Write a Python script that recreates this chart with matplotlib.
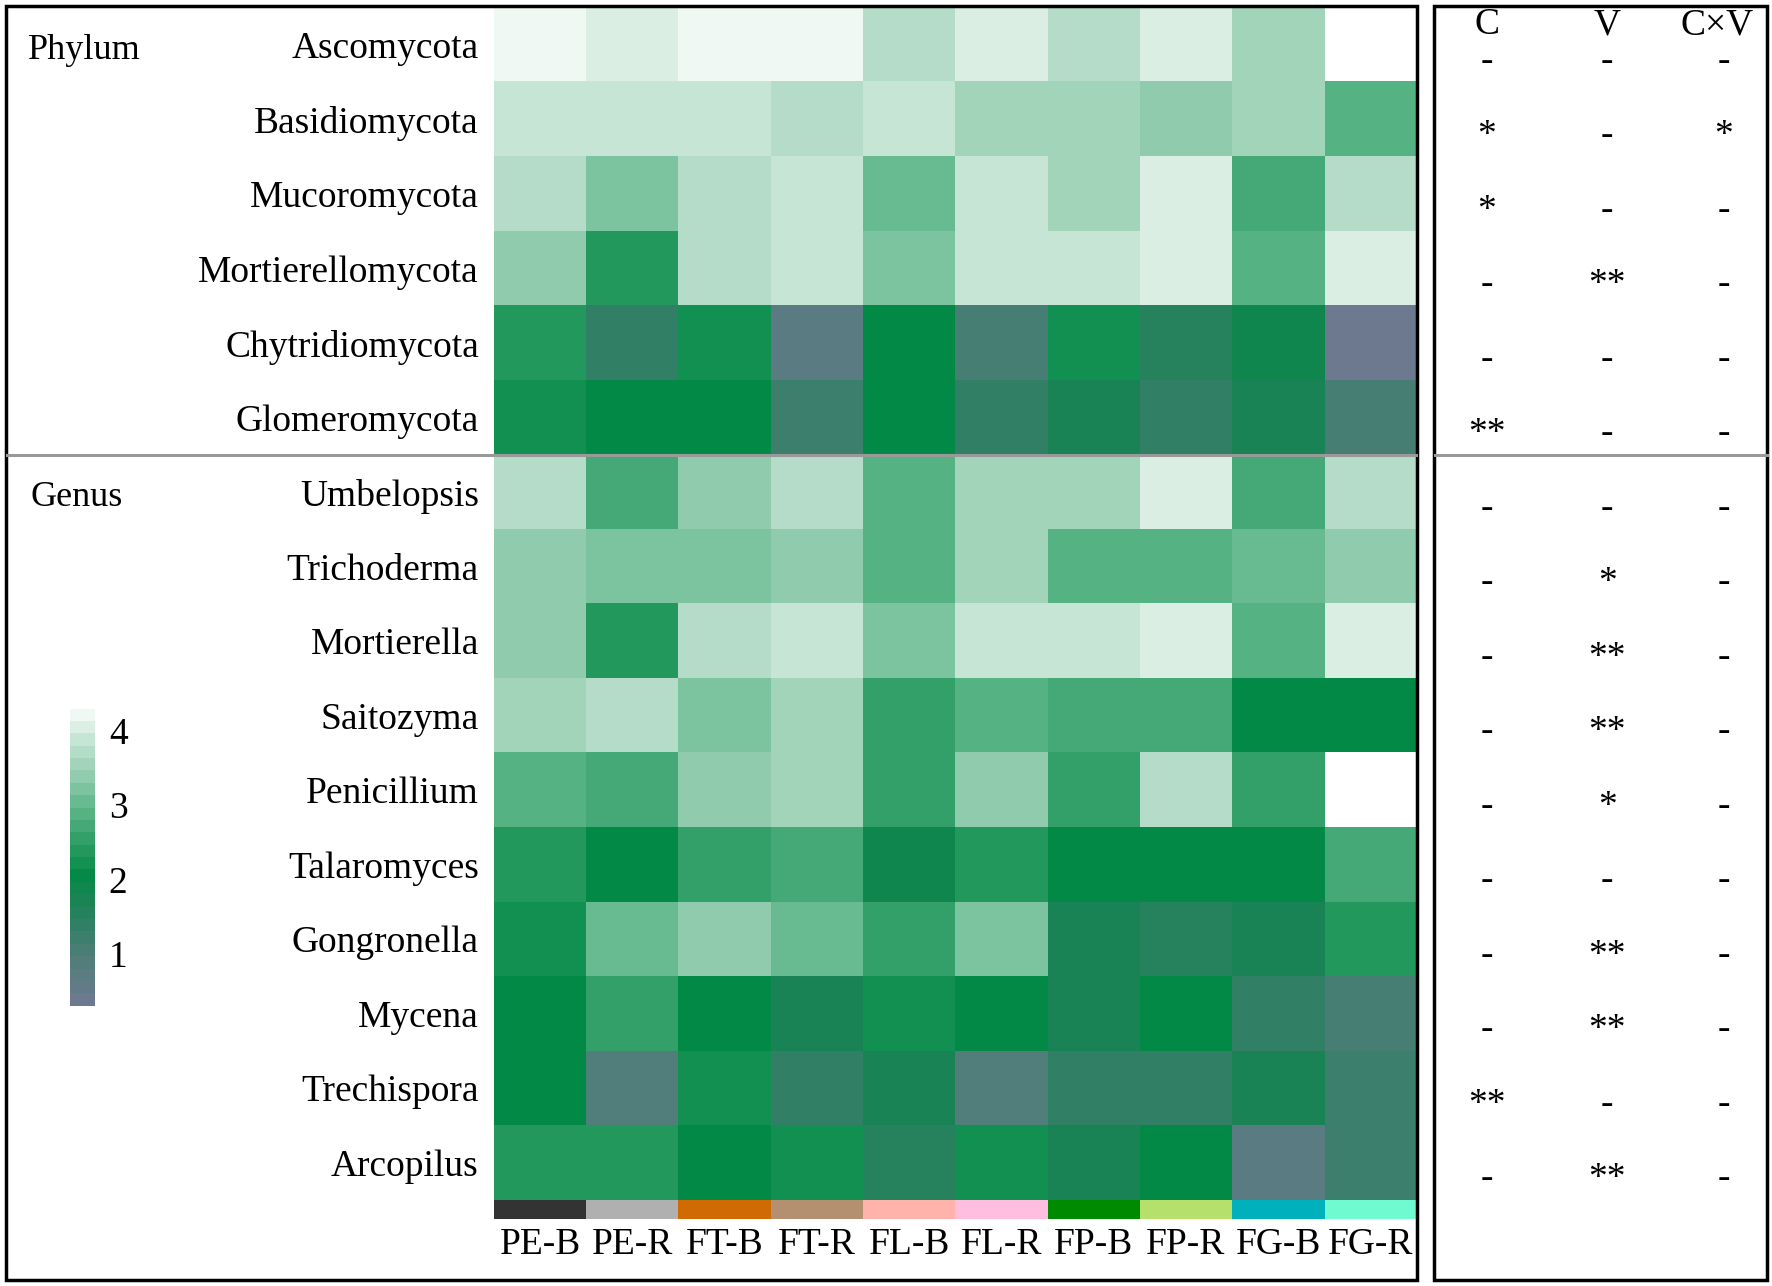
import numpy as np
import matplotlib.pyplot as plt
from matplotlib.colors import LinearSegmentedColormap, ListedColormap, Normalize
from matplotlib.patches import Rectangle
from matplotlib.lines import Line2D
from matplotlib.cm import ScalarMappable
from matplotlib.transforms import blended_transform_factory

plt.rcParams['font.family'] = ['Liberation Serif', 'DejaVu Serif']

# treatments and their colour tags
groups = ['PE-B', 'PE-R', 'FT-B', 'FT-R', 'FL-B', 'FL-R', 'FP-B', 'FP-R', 'FG-B', 'FG-R']
group_colors = ['#333333', '#b0b0b0', '#d06a04', '#b59070', '#ffb3aa',
                '#ffbde0', '#008a00', '#b5e06c', '#00b0bd', '#70fad0']

phylum = ['Ascomycota', 'Basidiomycota', 'Mucoromycota', 'Mortierellomycota',
          'Chytridiomycota', 'Glomeromycota']
genus = ['Umbelopsis', 'Trichoderma', 'Mortierella', 'Saitozyma', 'Penicillium',
         'Talaromyces', 'Gongronella', 'Mycena', 'Trechispora', 'Arcopilus']

nan = np.nan
# log-scaled abundance (white cells = missing)
phylum_vals = [
    [4.22, 4.05, 4.22, 4.22, 3.72, 4.05, 3.72, 4.05, 3.55, nan],
    [3.88, 3.88, 3.88, 3.72, 3.88, 3.55, 3.55, 3.38, 3.55, 2.88],
    [3.72, 3.22, 3.72, 3.88, 3.05, 3.88, 3.55, 4.05, 2.72, 3.72],
    [3.38, 2.38, 3.72, 3.88, 3.22, 3.88, 3.88, 4.05, 2.88, 4.05],
    [2.38, 1.38, 2.22, 0.72, 2.05, 1.05, 2.22, 1.55, 1.80, 0.38],
    [2.22, 2.05, 2.05, 1.20, 2.05, 1.40, 1.75, 1.38, 1.65, 1.12],
]
genus_vals = [
    [3.72, 2.72, 3.38, 3.72, 2.88, 3.55, 3.55, 4.05, 2.72, 3.72],
    [3.38, 3.22, 3.22, 3.38, 2.88, 3.55, 2.88, 2.88, 3.05, 3.38],
    [3.38, 2.38, 3.72, 3.88, 3.22, 3.88, 3.88, 4.05, 2.88, 4.05],
    [3.55, 3.72, 3.22, 3.55, 2.55, 2.88, 2.72, 2.72, 2.05, 2.05],
    [2.88, 2.72, 3.38, 3.55, 2.55, 3.38, 2.55, 3.72, 2.55, nan],
    [2.38, 2.05, 2.55, 2.72, 1.85, 2.38, 2.05, 2.05, 2.05, 2.72],
    [2.22, 3.05, 3.38, 3.05, 2.55, 3.22, 1.65, 1.55, 1.65, 2.38],
    [2.05, 2.55, 2.05, 1.75, 2.22, 2.05, 1.75, 2.05, 1.30, 1.05],
    [2.05, 0.88, 2.22, 1.40, 1.65, 0.88, 1.45, 1.38, 1.70, 1.22],
    [2.38, 2.38, 2.05, 2.22, 1.55, 2.22, 1.75, 2.05, 0.65, 1.20],
]

# significance: C, V, CxV
sig_C = ['-', '*', '*', '-', '-', '**',
         '-', '-', '-', '-', '-', '-', '-', '-', '**', '-']
sig_V = ['-', '-', '-', '**', '-', '-',
         '-', '*', '**', '**', '*', '-', '**', '**', '-', '**']
sig_CV = ['-', '*', '-', '-', '-', '-',
          '-', '-', '-', '-', '-', '-', '-', '-', '-', '-']
sig_heads = ['C', 'V', 'C×V']

rows = phylum + genus
values = np.array(phylum_vals + genus_vals)

# colour scale (discrete steps as in the legend)
anchors = [(0.3, '#6c798e'), (0.9, '#4e7e78'), (1.3, '#348068'), (1.7, '#1a8455'),
           (2.05, '#038a46'), (2.5, '#2d9d65'), (3.0, '#5fb78a'), (3.5, '#98cfb3'),
           (4.0, '#cbe8d9'), (4.3, '#f0f8f3')]
vmin, vmax = 0.3, 4.3
cmap = LinearSegmentedColormap.from_list(
    'grn', [((v - vmin) / (vmax - vmin), c) for v, c in anchors]).resampled(24)
cmap.set_bad('white')
norm = Normalize(vmin, vmax)

fig = plt.figure(figsize=(17.72, 12.86), dpi=100)
FS = 27

# main heatmap
hx, hw = 0.2788, 0.5207
hb, hh = 0.067, 0.927
ax = fig.add_axes([hx, hb, hw, hh])
ax.imshow(np.ma.masked_invalid(values), cmap=cmap, norm=norm, aspect='auto',
          interpolation='nearest')
ax.set_yticks(range(len(rows)))
ax.set_yticklabels(rows, fontsize=FS)
ax.set_xticks([])
ax.tick_params(axis='y', length=0, pad=11)
for s in ax.spines.values():
    s.set_visible(False)

# treatment colour strip
ax2 = fig.add_axes([hx, 0.052, hw, 0.015])
ax2.imshow(np.arange(len(groups))[None, :], cmap=ListedColormap(group_colors),
           aspect='auto', interpolation='nearest')
ax2.set_xticks(range(len(groups)))
ax2.set_xticklabels(groups, fontsize=FS)
ax2.set_yticks([])
ax2.tick_params(axis='x', length=0, pad=6)
for s in ax2.spines.values():
    s.set_visible(False)

# significance panel
ax3 = fig.add_axes([0.809, hb, 0.1884, hh])
ax3.set_xlim(0, 1)
ax3.set_ylim(len(rows) - 0.5, -0.5)
ax3.axis('off')
col_x = [0.16, 0.52, 0.87]
for x, h in zip([0.16, 0.52, 0.85], sig_heads):
    ax3.text(x, -0.27, h, ha='center', va='center', fontsize=FS)
for x, col in zip(col_x, [sig_C, sig_V, sig_CV]):
    for i, s in enumerate(col):
        ax3.text(x, i + 0.22, s, ha='center', va='center', fontsize=FS)

# group labels
fig.text(0.016, 0.961, 'Phylum', fontsize=26, va='center')
fig.text(0.017, 0.613, 'Genus', fontsize=26, va='center')

# separator between phylum and genus blocks
tr = blended_transform_factory(fig.transFigure, ax.transData)
sep = len(phylum) - 0.5
fig.add_artist(Line2D([0.004, 0.799], [sep, sep], transform=tr, color='#999999', lw=2.2))
fig.add_artist(Line2D([0.810, 0.997], [sep, sep], transform=tr, color='#999999', lw=2.2))

# frames
fig.add_artist(Rectangle((0.0032, 0.0044), 0.7963, 0.9912, transform=fig.transFigure,
                         fill=False, ec='black', lw=2.5))
fig.add_artist(Rectangle((0.809, 0.0044), 0.1884, 0.9912, transform=fig.transFigure,
                         fill=False, ec='black', lw=2.5))

# colour legend
cax = fig.add_axes([0.0396, 0.218, 0.014, 0.231])
cb = fig.colorbar(ScalarMappable(norm=norm, cmap=cmap), cax=cax, ticks=[1, 2, 3, 4])
cb.outline.set_visible(False)
cax.tick_params(length=0, labelsize=FS, pad=10)

fig.savefig('out.png', dpi=100)
